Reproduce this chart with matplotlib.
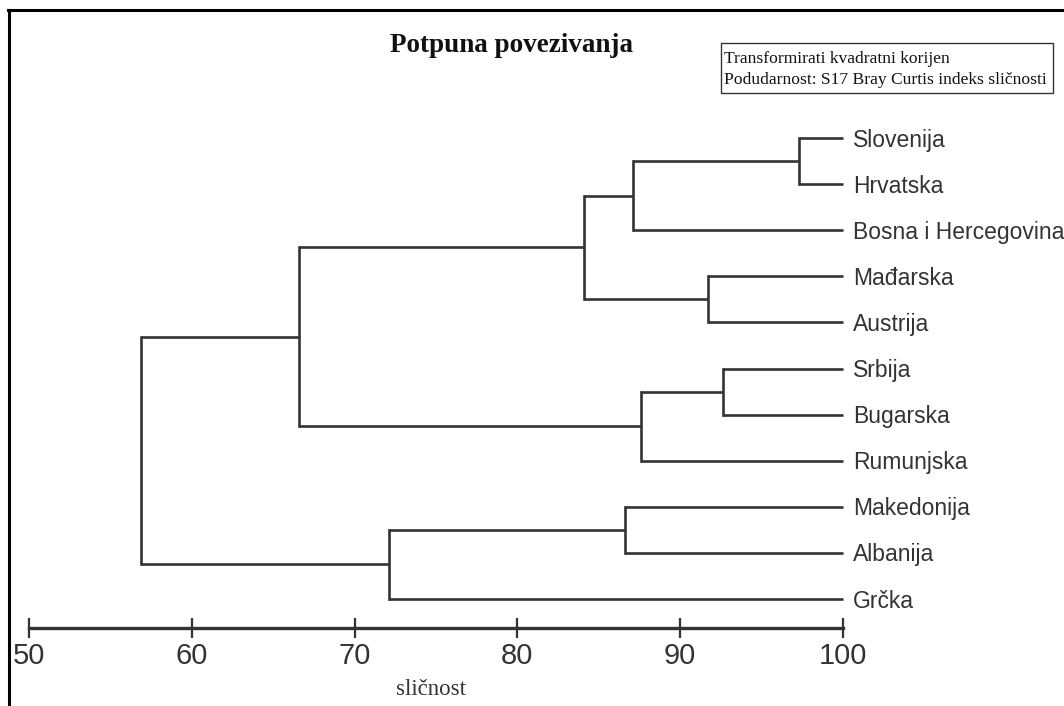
import matplotlib
matplotlib.use("Agg")
import matplotlib.pyplot as plt
from matplotlib.lines import Line2D
from matplotlib.patches import Rectangle

# leaves, top to bottom
leaves = ['Slovenija', 'Hrvatska', 'Bosna i Hercegovina', 'Mađarska', 'Austrija',
          'Srbija', 'Bugarska', 'Rumunjska', 'Makedonija', 'Albanija', 'Grčka']

# merges: (left child, right child, similarity); new clusters are numbered 11, 12, ...
merge_left = [0, 11, 3, 12, 5, 15, 14, 8, 18, 17]
merge_right = [1, 2, 4, 13, 6, 7, 16, 9, 10, 19]
merge_sim = [97.3, 87.1, 91.7, 84.1, 92.6, 87.6, 66.6, 86.6, 72.1, 56.9]

xticks = [50, 60, 70, 80, 90, 100]

W, H = 1064, 706
fig = plt.figure(figsize=(W / 100, H / 100), dpi=100)
fig.patch.set_facecolor('white')

x0, x1 = 29, 843          # pixels for 50 and 100
ytop, ybot = 115, 628     # axes top / axis line in pixels
leaf_top, leaf_step = 138, 46.1
ax = fig.add_axes([x0 / W, (H - ybot) / H, (x1 - x0) / W, (ybot - ytop) / H])
ax.set_xlim(50, 100)
ax.set_ylim((ybot - leaf_top) / leaf_step, (ytop - leaf_top) / leaf_step)

line_col = '#333333'
pos_x = {i: 100.0 for i in range(len(leaves))}
pos_y = {i: float(i) for i in range(len(leaves))}
for k, (a, b, s) in enumerate(zip(merge_left, merge_right, merge_sim)):
    node = len(leaves) + k
    for c in (a, b):
        ax.plot([pos_x[c], s], [pos_y[c], pos_y[c]], color=line_col, lw=1.9,
                solid_capstyle='butt', clip_on=False)
    ax.plot([s, s], [pos_y[a], pos_y[b]], color=line_col, lw=1.9,
            solid_capstyle='projecting', clip_on=False)
    pos_x[node] = s
    pos_y[node] = (pos_y[a] + pos_y[b]) / 2

for i, name in enumerate(leaves):
    ax.annotate(name, (100, i), xytext=(7, -1.5), textcoords='offset points',
                va='center', ha='left', fontsize=16.5, color='#333333',
                family=['Liberation Sans', 'DejaVu Sans'], annotation_clip=False)

for side in ['top', 'right', 'left']:
    ax.spines[side].set_visible(False)
ax.spines['bottom'].set_linewidth(2.4)
ax.spines['bottom'].set_color('#333333')
ax.set_yticks([])
ax.set_xticks(xticks)
ax.set_xticklabels([str(t) for t in xticks])
ax.tick_params(axis='x', direction='inout', length=14, width=1.6, color='#333333',
               pad=3, labelsize=21, labelcolor='#333333')
for lab in ax.get_xticklabels():
    lab.set_family(['Liberation Sans', 'DejaVu Sans'])

# title and axis label
fig.text(512 / W, (H - 52) / H, 'Potpuna povezivanja', ha='center', va='baseline',
         fontsize=19.5, fontweight='bold', family='Liberation Serif', color='#111111')
fig.text(431 / W, (H - 695) / H, 'sličnost', ha='center', va='baseline',
         fontsize=16.5, family='Liberation Serif', color='#333333')

# info box
fig.patches.append(Rectangle((721 / W, (H - 93) / H), (1053 - 721) / W, 50 / H,
                             transform=fig.transFigure, fill=False,
                             edgecolor='#333333', lw=1.0))
fig.text(724 / W, (H - 63) / H, 'Transformirati kvadratni korijen', ha='left',
         va='baseline', fontsize=12.6, family='Liberation Serif', color='#111111')
fig.text(724 / W, (H - 84) / H, 'Podudarnost: S17 Bray Curtis indeks sličnosti',
         ha='left', va='baseline', fontsize=12.6, family='Liberation Serif', color='#111111')

# outer frame (top and left)
fig.lines.append(Line2D([8 / W, 1], [(H - 10) / H, (H - 10) / H],
                        transform=fig.transFigure, color='black', lw=2.2))
fig.lines.append(Line2D([9 / W, 9 / W], [0, (H - 10) / H],
                        transform=fig.transFigure, color='black', lw=2.2))

fig.savefig('out.png', dpi=100, facecolor='white')
